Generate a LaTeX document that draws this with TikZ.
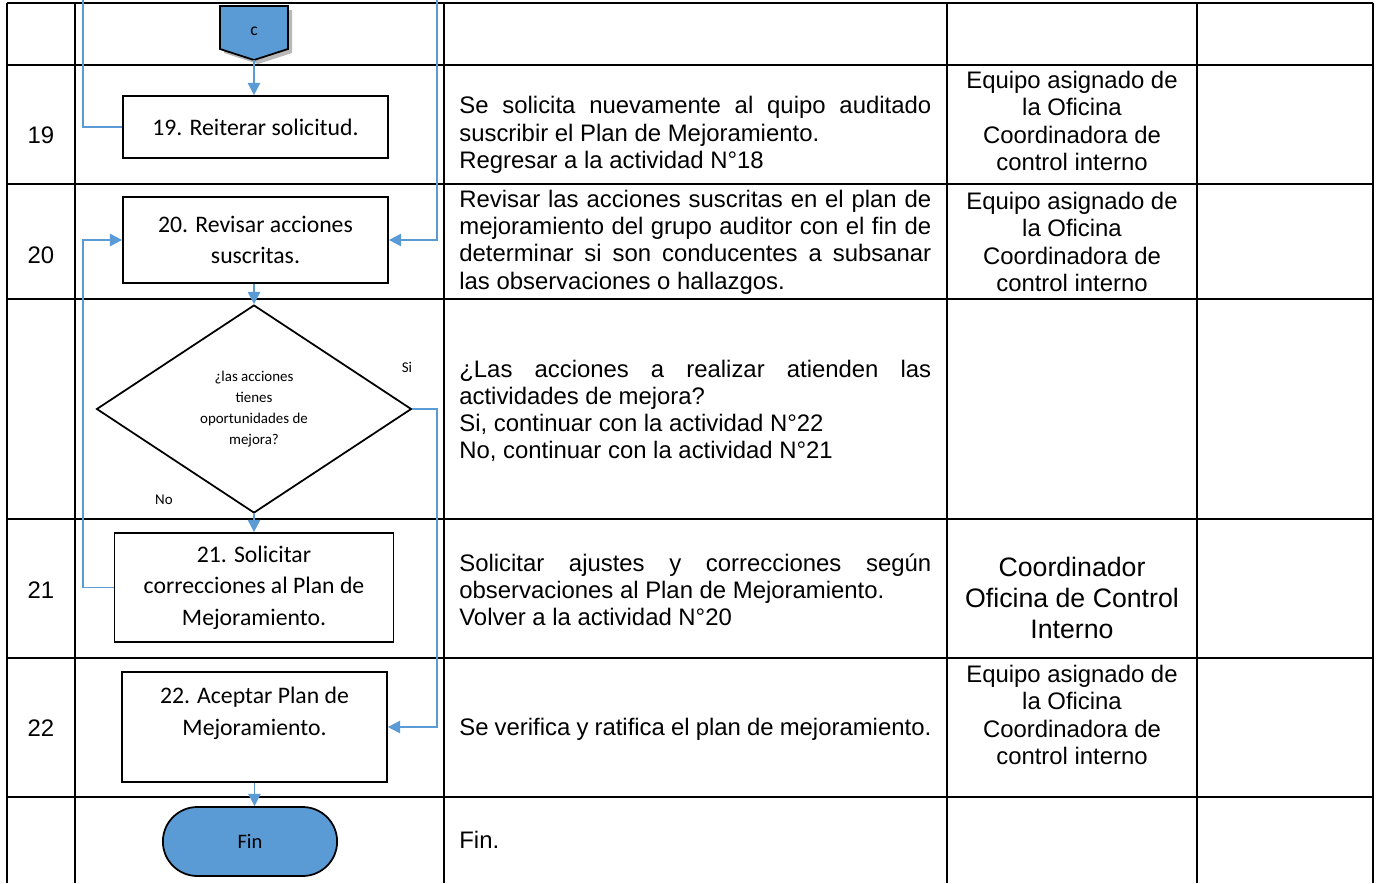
\documentclass[tikz,border=0pt]{standalone}
\usepackage{fontspec}
\setmainfont{Liberation Sans}
\newfontfamily\calibri{Carlito}
\usetikzlibrary{shapes.geometric,shapes.misc,arrows.meta}

\definecolor{flowblue}{HTML}{5B9BD5}

\tikzset{
	tableline/.style={black, line width=1.5pt},
	actbox/.style={shape=rectangle, draw=black, fill=white, line width=1pt, inner sep=0pt, align=center, font=\calibri\fontsize{13.5}{18}\selectfont},
	decision/.style={shape=diamond, draw=black, fill=white, line width=1pt, inner sep=0pt, aspect=1.5, align=center, font=\calibri\fontsize{8.5}{12}\selectfont},
	terminal/.style={shape=rounded rectangle, draw=black, fill=flowblue, line width=1pt, font=\calibri\fontsize{11.7}{14}\selectfont},
	smalllabel/.style={inner sep=0pt, font=\calibri\fontsize{8.5}{10}\selectfont},
	flow/.style={draw=flowblue, line width=1.1pt, -{Triangle[width=7pt,length=7pt]}},
	link/.style={draw=flowblue, line width=1.1pt},
	numtext/.style={inner sep=0pt, font=\fontsize{13.6}{15.5}\selectfont},
	desctext/.style={inner sep=0pt, anchor=west, text width=9.44cm, align=justify, font=\fontsize{13.6}{15.5}\selectfont},
	whotext/.style={inner sep=0pt, align=center, font=\fontsize{13.6}{15.5}\selectfont},
}

\begin{document}
\begin{tikzpicture}[x=0.02cm, y=-0.02cm]

	\useasboundingbox (0,0) rectangle (1376,883);

	\foreach \yy in {3, 65, 184, 299, 519, 658, 797}
		\draw[tableline] (7,\yy) -- (1373,\yy);
	\foreach \xx in {7, 75, 444, 947, 1197, 1373}
		\draw[tableline] (\xx,3) -- (\xx,883);

	\node[numtext] (n19) at (41, 135) {19};
	\node[numtext] (n20) at (41, 255) {20};
	\node[numtext] (n21) at (41, 590) {21};
	\node[numtext] (n22) at (41, 728) {22};

	\fill[gray!55] (224,10) -- (292,10) -- (292,53) -- (258,64) -- (224,53) -- cycle;
	\draw[fill=flowblue, line width=1pt] (220,6) -- (288,6) -- (288,49) -- (254,60) -- (220,49) -- cycle;
	\node[smalllabel, font=\calibri\fontsize{10}{12}\selectfont] (c) at (254, 31) {c};
	\coordinate (ctip) at (254, 60);

	\node[actbox, minimum width=5.3cm, minimum height=1.24cm] (b19) at (255.5, 127) {19. Reiterar solicitud.};
	\node[actbox, minimum width=5.3cm, minimum height=1.72cm] (b20) at (255.5, 240) {20. Revisar acciones\\suscritas.};
	\node[decision, minimum width=6.3cm, minimum height=4.16cm] (dec) at (254, 409) {¿las acciones\\tienes\\oportunidades de\\mejora?};
	\node[actbox, minimum width=5.58cm, minimum height=2.18cm] (b21) at (254, 587.5) {21. Solicitar\\correcciones al Plan de\\Mejoramiento.};
	\node[actbox, minimum width=5.3cm, minimum height=2.2cm] (b22) at (254.5, 727) {22. Aceptar Plan de\\Mejoramiento.\\\mbox{}};
	\node[terminal, minimum width=3.72cm, minimum height=1.38cm] (fin) at (250, 841.5) {Fin};

	\node[smalllabel] (si) at (407, 367) {Si};
	\node[smalllabel] (no) at (164, 500) {No};

	\coordinate (topL) at (83, 0);
	\coordinate (topR) at (437, 0);
	\coordinate (siturn) at (437, 409);
	\coordinate (noturn) at (83, 587.5);

	\path[flow] (ctip) -- (ctip |- b19.north);
	\path[link] (b19.west) -| (topL);
	\path[flow] (topR) |- (b20.east);
	\path[flow] (dec.north |- b20.south) -- (dec.north);
	\path[flow] (dec.south) -- (b21.north);
	\path[flow] (dec.east) -- (siturn) |- (b22.east);
	\path[flow] (b21.west) -- (noturn) |- (b20.west);
	\path[flow] (b22.south) -- (b22.south |- fin.north);

	\node[desctext] (d19) at (459, 135) {Se solicita nuevamente al quipo auditado\linebreak suscribir el Plan de Mejoramiento.\\Regresar a la actividad N°18};
	\node[desctext] (d20) at (459, 242) {Revisar las acciones suscritas en el plan de\linebreak mejoramiento del grupo auditor con el fin de\linebreak determinar si son conducentes a subsanar\linebreak las observaciones o hallazgos.};
	\node[desctext] (ddec) at (459, 411) {¿Las acciones a realizar atienden las\linebreak actividades de mejora?\\Si, continuar con la actividad N°22\\No, continuar con la actividad N°21};
	\node[desctext] (d21) at (459, 590) {Solicitar ajustes y correcciones según\linebreak observaciones al Plan de Mejoramiento.\\Volver a la actividad N°20};
	\node[desctext] (d22) at (459, 729) {Se verifica y ratifica el plan de mejoramiento.};
	\node[desctext] (dfin) at (459, 840) {Fin.};

	\node[whotext] (w19) at (1072, 121) {Equipo asignado de\\la Oficina\\Coordinadora de\\control interno};
	\node[whotext] (w20) at (1072, 242) {Equipo asignado de\\la Oficina\\Coordinadora de\\control interno};
	\node[whotext, font=\fontsize{15.2}{17.6}\selectfont] (w21) at (1072, 598) {Coordinador\\Oficina de Control\\Interno};
	\node[whotext] (w22) at (1072, 715) {Equipo asignado de\\la Oficina\\Coordinadora de\\control interno};

\end{tikzpicture}
\end{document}
